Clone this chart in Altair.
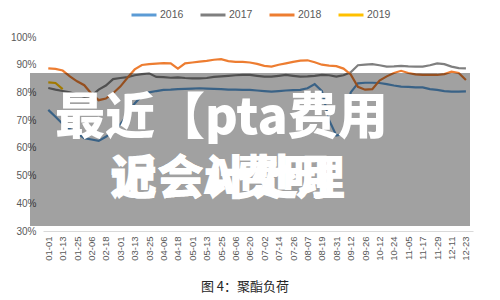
import json
import altair as alt
import pandas as pd

# trading-day index of each sample (x position in days from 01-01)
days = [0, 6, 12, 18, 24, 30, 36, 42, 48, 54, 60, 66, 72, 78, 84, 90, 96, 102,
        108, 114, 120, 126, 132, 138, 144, 150, 156, 162, 168, 174, 180, 186,
        192, 198, 204, 210, 216, 222, 228, 234, 240, 246, 252, 258, 264, 270,
        276, 282, 288, 294, 300, 306, 312, 318, 324, 330, 336, 342, 348]

s2016 = [73.7, 71.2, 68.6, 66.8, 65.3, 63.5, 63.0, 62.5, 64.0, 65.8, 68.5, 72.0,
         76.0, 78.8, 80.0, 80.5, 80.9, 81.0, 81.2, 81.3, 81.4, 81.5, 81.4, 81.3,
         81.2, 81.0, 81.0, 80.9, 80.9, 80.7, 80.5, 80.3, 80.5, 80.7, 80.8, 80.9,
         81.5, 83.0, 80.5, 70.0, 64.5, 65.0, 80.0, 83.3, 83.5, 83.5, 83.4, 83.0,
         82.5, 82.1, 82.0, 81.8, 81.8, 81.2, 80.9, 80.5, 80.3, 80.3, 80.4]

s2017 = [81.6, 81.0, 80.5, 80.0, 79.2, 78.5, 78.8, 81.0, 82.5, 84.8, 85.2, 85.5,
         86.2, 86.6, 86.9, 85.6, 85.5, 85.3, 85.4, 85.2, 85.1, 85.1, 85.2, 85.6,
         85.8, 86.0, 86.2, 86.3, 86.3, 86.0, 85.7, 85.7, 86.0, 86.3, 86.0, 85.7,
         85.8, 86.0, 86.3, 86.2, 85.7, 86.2, 87.3, 89.8, 90.0, 90.2, 89.8, 89.3,
         89.4, 89.6, 89.4, 89.3, 89.3, 89.8, 90.5, 90.2, 89.3, 88.8, 88.7]

s2018 = [88.7, 88.5, 87.9, 85.8, 84.0, 82.6, 79.5, 77.2, 77.8, 79.7, 82.1, 85.3,
         88.3, 89.9, 90.2, 90.4, 90.6, 90.5, 88.6, 90.5, 90.8, 91.1, 91.4, 91.8,
         92.0, 91.3, 91.0, 91.0, 90.8, 90.3, 89.6, 89.3, 90.0, 90.5, 91.0, 91.5,
         91.6, 90.9, 90.0, 89.7, 89.5, 88.6, 86.5, 82.0, 81.0, 81.2, 84.3, 85.8,
         87.0, 87.8, 87.0, 86.5, 86.3, 86.3, 86.3, 86.6, 87.5, 87.0, 84.5]

s2019 = [83.6, 83.4, 81.2]

tick_days = [0, 12, 24, 36, 48, 60, 72, 84, 96, 108, 120, 132, 144, 156, 168,
             180, 192, 204, 216, 228, 240, 252, 264, 276, 288, 300, 312, 324,
             336, 348]
tick_labels = ["01-01", "01-13", "01-25", "02-06", "02-18", "03-01", "03-13",
               "03-25", "04-06", "04-18", "05-01", "05-13", "05-25", "06-06",
               "06-20", "07-02", "07-14", "07-26", "08-07", "08-19", "08-31",
               "09-12", "09-26", "10-12", "10-24", "11-05", "11-17", "11-29",
               "12-11", "12-23"]
y_ticks = [0.3, 0.4, 0.5, 0.6, 0.7, 0.8, 0.9, 1.0]

years = ["2016", "2017", "2018", "2019"]
colors = ["#5B9BD5", "#7F7F7F", "#ED7D31", "#FFC000"]

line1 = "最近【pta费用"
line2a = "记会计处理"
line2b = "近会A费明"
caption = "图 4：聚酯负荷"

rows = []
for yr, series in zip(years, [s2016, s2017, s2018, s2019]):
    for d, v in zip(days, series):
        rows.append({"year": yr, "day": d, "v": v / 100.0})
df = pd.DataFrame(rows)

label_expr = json.dumps(tick_labels) + "[round(datum.value / 12)]"

lines = alt.Chart(df).mark_line(strokeWidth=2.2).encode(
    x=alt.X("day:Q",
            scale=alt.Scale(domain=[-4.4, 353.9], nice=False, zero=False),
            axis=alt.Axis(values=tick_days, labelExpr=label_expr, title=None,
                          labelAngle=270, labelAlign="right",
                          labelBaseline="middle", labelPadding=5,
                          labelFontSize=9.5, labelColor="#595959",
                          labelFont="Liberation Sans", ticks=False,
                          grid=False, domain=True, domainColor="#d9d9d9",
                          domainWidth=1, labelOverlap=False)),
    y=alt.Y("v:Q",
            scale=alt.Scale(domain=[0.3, 1.0], nice=False, zero=False),
            axis=alt.Axis(values=y_ticks, format=".0%", title=None,
                          ticks=False, grid=False, domain=False,
                          labelPadding=7, labelFontSize=10,
                          labelColor="#595959", labelFont="Liberation Sans")),
    color=alt.Color("year:N",
                    scale=alt.Scale(domain=years, range=colors),
                    legend=alt.Legend(orient="none", legendX=87, legendY=-36,
                                      direction="horizontal", title=None,
                                      symbolType="stroke", symbolSize=625,
                                      symbolStrokeWidth=3, labelFontSize=10.5,
                                      labelColor="#595959",
                                      labelFont="Liberation Sans",
                                      labelOffset=2, columnPadding=10,
                                      padding=0)),
)

one = pd.DataFrame({"a": [0]})

overlay = alt.Chart(one).mark_rect(color="black", opacity=0.37).encode(
    x=alt.value(-13), x2=alt.value(427), y=alt.value(36), y2=alt.value(189)
)

t1 = alt.Chart(pd.DataFrame({"t": [line1]})).mark_text(
    align="left", baseline="alphabetic", fontSize=50, fontWeight=900,
    font="Noto Sans CJK SC", color="white"
).encode(text="t:N", x=alt.value(12), y=alt.value(97))

t2a = alt.Chart(pd.DataFrame({"t": [line2a]})).mark_text(
    align="left", baseline="alphabetic", fontSize=47, fontWeight=900,
    font="Noto Sans CJK SC", color="white"
).encode(text="t:N", x=alt.value(67), y=alt.value(157))

t2b = alt.Chart(pd.DataFrame({"t": [line2b]})).mark_text(
    align="left", baseline="alphabetic", fontSize=47, fontWeight=900,
    font="Noto Sans CJK SC", color="white"
).encode(text="t:N", x=alt.value(67), y=alt.value(157))

cap = alt.Chart(pd.DataFrame({"t": [caption]})).mark_text(
    align="center", baseline="middle", fontSize=13,
    font="Noto Sans CJK SC", color="#262626"
).encode(text="t:N", x=alt.value(202), y=alt.value(250))

chart = alt.layer(lines, overlay, t1, t2a, t2b, cap).properties(
    width=430, height=194,
    autosize=alt.AutoSizeParams(type="none"),
    padding={"left": 43, "top": 37, "right": 27, "bottom": 69},
    background="white",
).configure_view(stroke=None)

chart.save("out.html", embed_options={"renderer": "svg", "actions": False})
